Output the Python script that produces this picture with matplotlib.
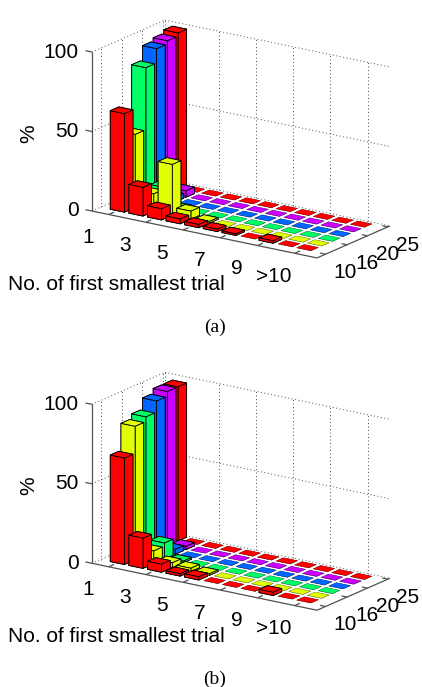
import numpy as np
import matplotlib
matplotlib.use("Agg")
import matplotlib.pyplot as plt
from mpl_toolkits.mplot3d import proj3d

W, H = 422, 687
plt.rcParams['font.family'] = ['Liberation Sans', 'DejaVu Sans']

trial_positions = np.arange(1, 12)
row_positions = np.arange(1, 7)
row_colors = ['#ff0000', '#e0ff00', '#00ff66', '#0066ff', '#cc00ff', '#ff0000']
x_tick_pos = [1, 3, 5, 7, 9, 11]
x_tick_labels = ['1', '3', '5', '7', '9', '>10']
y_tick_pos = [0.6, 2.6, 4.5, 6.4]
y_tick_labels = ['10', '16', '20', '25']
z_ticks = [0, 50, 100]

a_row1 = [62, 18, 7, 3, 2, 1.5, 1, 0, 1.5, 0, 0]
a_row2 = [46, 11, 32, 5, 1, 0, 0, 0, 0, 0, 0]
a_row3 = [85, 12, 1, 0, 0, 0, 0, 0, 0, 0, 0]
a_row4 = [94, 3, 0, 0, 0, 0, 0, 0, 0, 0, 0]
a_row5 = [96, 4, 0, 0, 0, 0, 0, 0, 0, 0, 0]
a_row6 = [98, 0, 0, 0, 0, 0, 0, 0, 0, 0, 0]

b_row1 = [67, 19, 5, 1.5, 2, 0, 0, 0, 2, 0, 0]
b_row2 = [84, 8, 3, 2, 1, 0, 0, 0, 0, 0, 0]
b_row3 = [87, 10, 1, 0, 0, 0, 0, 0, 0, 0, 0]
b_row4 = [94, 3, 0, 0, 0, 0, 0, 0, 0, 0, 0]
b_row5 = [97, 2, 0, 0, 0, 0, 0, 0, 0, 0, 0]
b_row6 = [97, 0, 0, 0, 0, 0, 0, 0, 0, 0, 0]

XLIM = (0.1, 12.2)
YLIM = (-0.2, 6.6)
ZLIM = (0, 100)
AXC = '#505050'
BW_X, BW_Y = 0.76, 0.8
FLAT_X, FLAT_Y = 0.76, 0.7
FS = 15

fig = plt.figure(figsize=(W / 100, H / 100), dpi=100)


def setlims(ax):
    ax.set_xlim(*XLIM, view_margin=0)
    ax.set_ylim(*YLIM, view_margin=0)
    ax.set_zlim(*ZLIM, view_margin=0)


def panel(rows, corner_px, right_px):
    ax = fig.add_axes([0.1, 0.1, 300 / W, 300 / H], projection='3d',
                      computed_zorder=False)
    ax.set_proj_type('ortho')
    ax.view_init(elev=17.6, azim=-55.4)
    ax.set_box_aspect((273.4, 128.5, 166.8))
    ax.set_axis_off()
    setlims(ax)
    ax.autoscale(False)

    grid = dict(color=AXC, ls=(0, (1, 2.6)), lw=0.7, zorder=1)
    axl = dict(color=AXC, lw=0.9, zorder=1.5, solid_capstyle='butt')
    x0, x1 = XLIM
    y0, y1 = YLIM
    labels = []
    for x in x_tick_pos[1:]:
        ax.plot([x, x], [y1, y1], ZLIM, **grid)
    for y in y_tick_pos:
        ax.plot([x0, x0], [y, y], ZLIM, **grid)
    ax.plot([x0, x0], [y1, y1], ZLIM, **grid)
    for z in z_ticks:
        ax.plot(XLIM, [y1, y1], [z, z], **grid)
        ax.plot([x0, x0], YLIM, [z, z], **grid)
    ax.plot(XLIM, [y0, y0], [0, 0], **axl)
    ax.plot([x1, x1], YLIM, [0, 0], **axl)
    ax.plot([x0, x0], [y0, y0], ZLIM, **axl)
    for z in z_ticks:
        ax.plot([x0 - 0.35, x0], [y0, y0], [z, z], **axl)
        labels.append((x0 - 0.7, y0, z - 1.7, str(z), 'right'))
    for x, t in zip(x_tick_pos, x_tick_labels):
        ax.plot([x, x], [y0, y0 + 0.5], [0, 0], **axl)
        labels.append((x, y0 - 1.96, -8.7, t, 'center'))
    for y, t in zip(y_tick_pos, y_tick_labels):
        ax.plot([x1 - 0.3, x1], [y, y], [0, 0], **axl)
        labels.append((x1 + 1.07, y, -9, t, 'center'))

    # bars, painted back to front
    order = 10
    for r in range(len(rows) - 1, -1, -1):
        for i, xp in enumerate(trial_positions):
            h = rows[r][i]
            if h == 0:
                ax.bar3d(xp - FLAT_X / 2, row_positions[r] - FLAT_Y / 2, 0,
                         FLAT_X, FLAT_Y, h, color=row_colors[r], shade=False,
                         edgecolor=(0, 0, 0, 0.35), linewidth=0.3, zorder=order)
            else:
                ax.bar3d(xp - BW_X / 2, row_positions[r] - BW_Y / 2, 0,
                         BW_X, BW_Y, h, color=row_colors[r], shade=False,
                         edgecolor='black', linewidth=0.6, zorder=order)
            order += 1
    setlims(ax)

    # place the axes so the floor corner and x-axis span fall where wanted
    fig.canvas.draw()
    xs, ys, _ = proj3d.proj_transform(np.array([x0, x1]), np.array([y0, y0]),
                                      np.array([0., 0.]), ax.get_proj())
    pts = ax.transData.transform(np.column_stack([xs, ys]))
    bb = ax.get_position(original=True)
    cx = (bb.x0 + bb.x1) / 2 * W
    cy = (bb.y0 + bb.y1) / 2 * H
    ratio = (right_px[0] - corner_px[0]) / (pts[1, 0] - pts[0, 0])
    S = 300 * ratio
    ncx = corner_px[0] - (pts[0, 0] - cx) * ratio
    ncy = (H - corner_px[1]) - (pts[0, 1] - cy) * ratio
    ax.set_position([(ncx - S / 2) / W, (ncy - S / 2) / H, S / W, S / H])
    fig.canvas.draw()

    # tick labels as figure text at their projected positions
    M = ax.get_proj()
    for lx, ly, lz, t, ha in labels:
        px, py, _ = proj3d.proj_transform(lx, ly, lz, M)
        dx, dy = ax.transData.transform((px, py))
        fig.text(dx / W, dy / H, t, ha=ha, va='center', fontsize=FS, color='black')
    return ax


panel([a_row1, a_row2, a_row3, a_row4, a_row5, a_row6], (92, 211), (317, 258.3))
panel([b_row1, b_row2, b_row3, b_row4, b_row5, b_row6], (92, 563.3), (317, 610.6))


def ftext(px, py, s, **kw):
    fig.text(px / W, 1 - py / H, s, ha='center', va='center', **kw)


for dy, cap, cy in [(0, '(a)', 327), (352, '(b)', 679)]:
    ftext(116, 285 + dy, 'No. of first smallest trial', fontsize=FS)
    ftext(29, 134 + dy, '%', fontsize=FS, rotation=90)
    ftext(215, cy, cap, fontsize=14, family='Liberation Serif')

fig.savefig('out.png', dpi=100)
